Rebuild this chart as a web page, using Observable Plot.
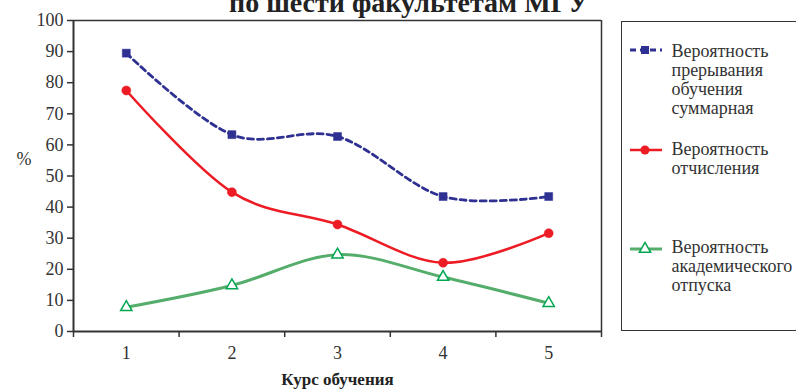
<!DOCTYPE html>
<html>
<head>
<meta charset="utf-8">
<script src="https://cdn.jsdelivr.net/npm/d3@7"></script>
<script src="https://cdn.jsdelivr.net/npm/@observablehq/plot@0.6"></script>
<style>
  html, body { margin: 0; padding: 0; background: #fff; }
  body { width: 796px; height: 391px; position: relative; overflow: hidden;
         font-family: "Liberation Serif", "Times New Roman", serif; color: #333; }
  #title { position: absolute; top: -11px; left: 0; width: 818px; text-align: center;
           font-weight: bold; font-size: 28px; line-height: 28px; color: #222; white-space: nowrap; }
  #chart { position: absolute; left: 0; top: 0; }
  #legend { position: absolute; left: 621px; top: 21px; width: 230px; height: 310px;
            box-sizing: border-box; border: 1.5px solid #333; background: #fff; }
  .sw { position: absolute; left: 7.5px; width: 32px; height: 14px; overflow: visible; }
  .txt { position: absolute; left: 49.5px; font-size: 18px; line-height: 19px; white-space: nowrap; color: #333;
         font-family: "Liberation Serif", "Times New Roman", serif; }
</style>
</head>
<body>
<div id="title">по шести факультетам МГУ</div>
<div id="chart"></div>
<div id="legend"></div>
<script>
// ---- data ----
const courses = [1, 2, 3, 4, 5];
const seriesNames = [
  "Вероятность прерывания обучения суммарная",
  "Вероятность отчисления",
  "Вероятность академического отпуска"
];
const legendLines = [
  ["Вероятность", "прерывания", "обучения", "суммарная"],
  ["Вероятность", "отчисления"],
  ["Вероятность", "академического", "отпуска"]
];
const totalValues     = [89.5, 63.3, 62.7, 43.4, 43.4];
const expulsionValues = [77.5, 44.8, 34.4, 22.1, 31.6];
const leaveValues     = [7.8, 14.8, 24.7, 17.5, 9.1];
const yTicks = [0, 10, 20, 30, 40, 50, 60, 70, 80, 90, 100];
const xTickLabels = ["1", "2", "3", "4", "5"];
const xAxisTitle = "Курс обучения";
const yAxisTitle = "%";

// ---- build tables ----
const rows = (vals) => courses.map((c, i) => ({course: c, value: vals[i]}));
const totalRows = rows(totalValues);
const expRows = rows(expulsionValues);
const leaveRows = rows(leaveValues);
const boundaries = [0.5, ...courses.map(c => c + 0.5)];

const axisColor = "#333";
const blue = "#2E3192", red = "#ED1C24", green = "#55AD6B", greenMark = "#00A651";
const serif = "'Liberation Serif', 'Times New Roman', serif";

const chart = Plot.plot({
  width: 796,
  height: 391,
  marginTop: 20,
  marginBottom: 60,
  marginLeft: 73,
  marginRight: 195,
  x: {domain: [0.5, 5.5]},
  y: {domain: [0, 100]},
  style: {fontFamily: serif, fontSize: "18px", color: axisColor, background: "transparent", overflow: "visible"},
  marks: [
    Plot.ruleY([100], {stroke: axisColor, strokeWidth: 1.5}),
    Plot.ruleX([5.5], {stroke: axisColor, strokeWidth: 1.5}),
    Plot.axisY({ticks: yTicks, tickSize: 6, tickPadding: 4, label: null, fontSize: 18, stroke: axisColor, strokeWidth: 1.5, strokeOpacity: 1}),
    Plot.axisX({ticks: boundaries, tickSize: 6, tickFormat: () => "", label: null, stroke: axisColor, strokeWidth: 1.5, strokeOpacity: 1}),
    Plot.axisX({ticks: courses, tickSize: 0, tickPadding: 15, label: null, fontSize: 18, tickFormat: (d) => xTickLabels[courses.indexOf(d)]}),
    Plot.ruleX([0.5], {stroke: axisColor, strokeWidth: 2}),
    Plot.ruleY([0], {stroke: axisColor, strokeWidth: 2}),
    Plot.text([xAxisTitle], {frameAnchor: "bottom", dy: 53, fontWeight: "bold", fontSize: 17, fill: "#222"}),
    Plot.text([yAxisTitle], {frameAnchor: "left", dx: -57, dy: -17, fontSize: 18, fill: axisColor}),
    // lines
    Plot.line(leaveRows, {x: "course", y: "value", curve: "cardinal", stroke: green, strokeWidth: 3}),
    Plot.line(expRows, {x: "course", y: "value", curve: "cardinal", stroke: red, strokeWidth: 2.5}),
    Plot.line(totalRows, {x: "course", y: "value", curve: "cardinal", stroke: blue, strokeWidth: 2.8, strokeDasharray: "6,4"}),
    // markers
    Plot.dot(leaveRows, {x: "course", y: "value", symbol: "triangle", r: 4.2, fill: "white", stroke: greenMark, strokeWidth: 1.5}),
    Plot.dot(expRows, {x: "course", y: "value", symbol: "circle", r: 4.5, fill: red, stroke: red, strokeWidth: 0.5}),
    Plot.dot(totalRows, {x: "course", y: "value", symbol: "square", r: 4.5, fill: blue, stroke: blue, strokeWidth: 0.5})
  ]
});
document.getElementById("chart").appendChild(chart);

// ---- legend ----
const legend = document.getElementById("legend");
const legendSpecs = [
  {color: blue, dash: "6,4", marker: "square", swY: 28.2, txtY: 19.7, width: 2.8},
  {color: red, dash: null, marker: "circle", swY: 127.5, txtY: 118, width: 2.5},
  {color: green, dash: null, marker: "triangle", swY: 226.5, txtY: 216, width: 3}
];
legendSpecs.forEach((s, i) => {
  const ns = "http://www.w3.org/2000/svg";
  const svg = document.createElementNS(ns, "svg");
  svg.setAttribute("class", "sw");
  svg.setAttribute("viewBox", "0 0 32 14");
  svg.style.top = (s.swY - 7) + "px";
  const line = document.createElementNS(ns, "line");
  line.setAttribute("x1", 0); line.setAttribute("x2", 32);
  line.setAttribute("y1", 7); line.setAttribute("y2", 7);
  line.setAttribute("stroke", s.color);
  line.setAttribute("stroke-width", s.width);
  if (s.dash) line.setAttribute("stroke-dasharray", s.dash);
  svg.appendChild(line);
  const sym = s.marker === "square" ? d3.symbolSquare : s.marker === "circle" ? d3.symbolCircle : d3.symbolTriangle;
  const r = s.marker === "triangle" ? 4.2 : 4.5;
  const p = document.createElementNS(ns, "path");
  p.setAttribute("d", d3.symbol(sym, Math.PI * r * r)());
  p.setAttribute("transform", "translate(15,7)");
  if (s.marker === "triangle") {
    p.setAttribute("fill", "white"); p.setAttribute("stroke", greenMark); p.setAttribute("stroke-width", 1.5);
  } else {
    p.setAttribute("fill", s.color);
  }
  svg.appendChild(p);
  legend.appendChild(svg);
  const t = document.createElement("div");
  t.className = "txt";
  t.style.top = s.txtY + "px";
  t.innerHTML = legendLines[i].join("<br>");
  t.title = seriesNames[i];
  legend.appendChild(t);
});
</script>
</body>
</html>
